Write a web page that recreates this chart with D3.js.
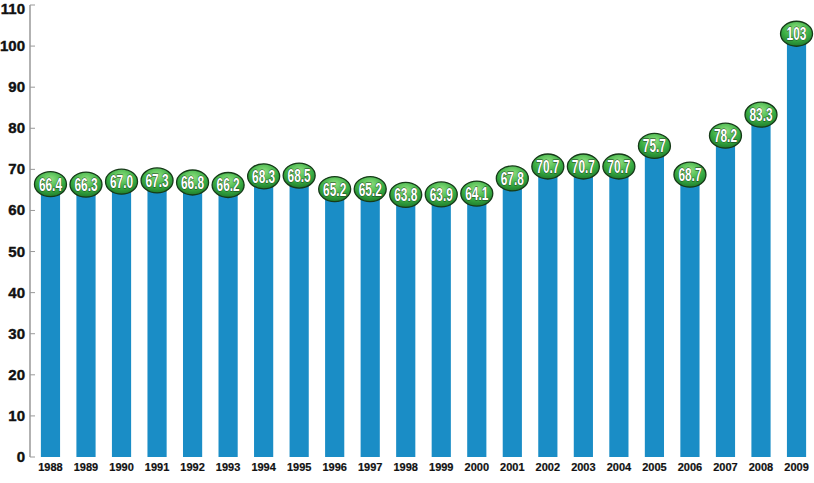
<!DOCTYPE html>
<html>
<head>
<meta charset="utf-8">
<style>
  body { margin: 0; background: #fff; }
  .tick-y { font: bold 15px "Liberation Sans", Arial, sans-serif; fill: #111; stroke: #111; stroke-width: 0.4px; }
  .tick-x { font: bold 11px "Liberation Sans", Arial, sans-serif; fill: #111; stroke: #111; stroke-width: 0.2px; }
  .val { font: bold 18px "Liberation Sans", Arial, sans-serif;
         fill: #fff; stroke: #1c3a1c; stroke-width: 0.9px; paint-order: stroke; }
</style>
</head>
<body>
<svg id="chart" width="814" height="483"></svg>
<script src="https://cdn.jsdelivr.net/npm/d3@7"></script>
<script>
var years = ["1988","1989","1990","1991","1992","1993","1994","1995","1996","1997","1998",
  "1999","2000","2001","2002","2003","2004","2005","2006","2007","2008","2009"];
var values = [66.4,66.3,67.0,67.3,66.8,66.2,68.3,68.5,65.2,65.2,63.8,
  63.9,64.1,67.8,70.7,70.7,70.7,75.7,68.7,78.2,83.3,103];
var labels = ["66.4","66.3","67.0","67.3","66.8","66.2","68.3","68.5","65.2","65.2","63.8",
  "63.9","64.1","67.8","70.7","70.7","70.7","75.7","68.7","78.2","83.3","103"];
var yTicks = [0,10,20,30,40,50,60,70,80,90,100,110];

var svg = d3.select("#chart");

var defs = svg.append("defs");
var grad = defs.append("radialGradient").attr("id", "pill")
  .attr("cx", "50%").attr("cy", "30%").attr("r", "70%");
grad.append("stop").attr("offset", "0%").attr("stop-color", "#8ee07e");
grad.append("stop").attr("offset", "60%").attr("stop-color", "#3aae44");
grad.append("stop").attr("offset", "100%").attr("stop-color", "#1f7d2c");

var x = d3.scaleBand().domain(years).range([32, 815]).paddingInner(0.46).paddingOuter(0.25);
var y = d3.scaleLinear().domain([0, 110]).range([457, 5]);

// bars
svg.selectAll(".bar").data(values).enter().append("rect")
  .attr("class", "bar")
  .attr("x", (d, i) => x(years[i]))
  .attr("width", x.bandwidth())
  .attr("y", d => y(d))
  .attr("height", d => y(0) - y(d))
  .attr("fill", "#1a8dc6");

// y axis
svg.append("line").attr("x1", 30).attr("x2", 30).attr("y1", y(110)).attr("y2", y(0))
  .attr("stroke", "#999").attr("stroke-width", 1.5);
svg.selectAll(".ytick").data(yTicks).enter().append("line")
  .attr("x1", 30).attr("x2", 35).attr("y1", d => y(d)).attr("y2", d => y(d))
  .attr("stroke", "#999").attr("stroke-width", 1);
svg.selectAll(".tick-y").data(yTicks).enter().append("text")
  .attr("class", "tick-y")
  .attr("x", 25).attr("y", d => Math.max(y(d) + 5, 14))
  .attr("text-anchor", "end")
  .text(d => d);

// x labels
svg.selectAll(".tick-x").data(years).enter().append("text")
  .attr("class", "tick-x")
  .attr("x", d => x(d) + x.bandwidth() / 2)
  .attr("y", 471)
  .attr("text-anchor", "middle")
  .text(d => d);

// value pills
var pill = svg.selectAll(".pill").data(values).enter().append("g")
  .attr("transform", (d, i) => "translate(" + (x(years[i]) + x.bandwidth() / 2) + "," + y(d) + ")");
pill.append("ellipse").attr("rx", 16).attr("ry", 12.5)
  .attr("fill", "url(#pill)").attr("stroke", "#163a18").attr("stroke-width", 1.3);
pill.append("text").attr("class", "val")
  .attr("text-anchor", "middle").attr("y", 6.5)
  .attr("transform", "scale(0.66,1)")
  .text((d, i) => labels[i]);
</script>
</body>
</html>
